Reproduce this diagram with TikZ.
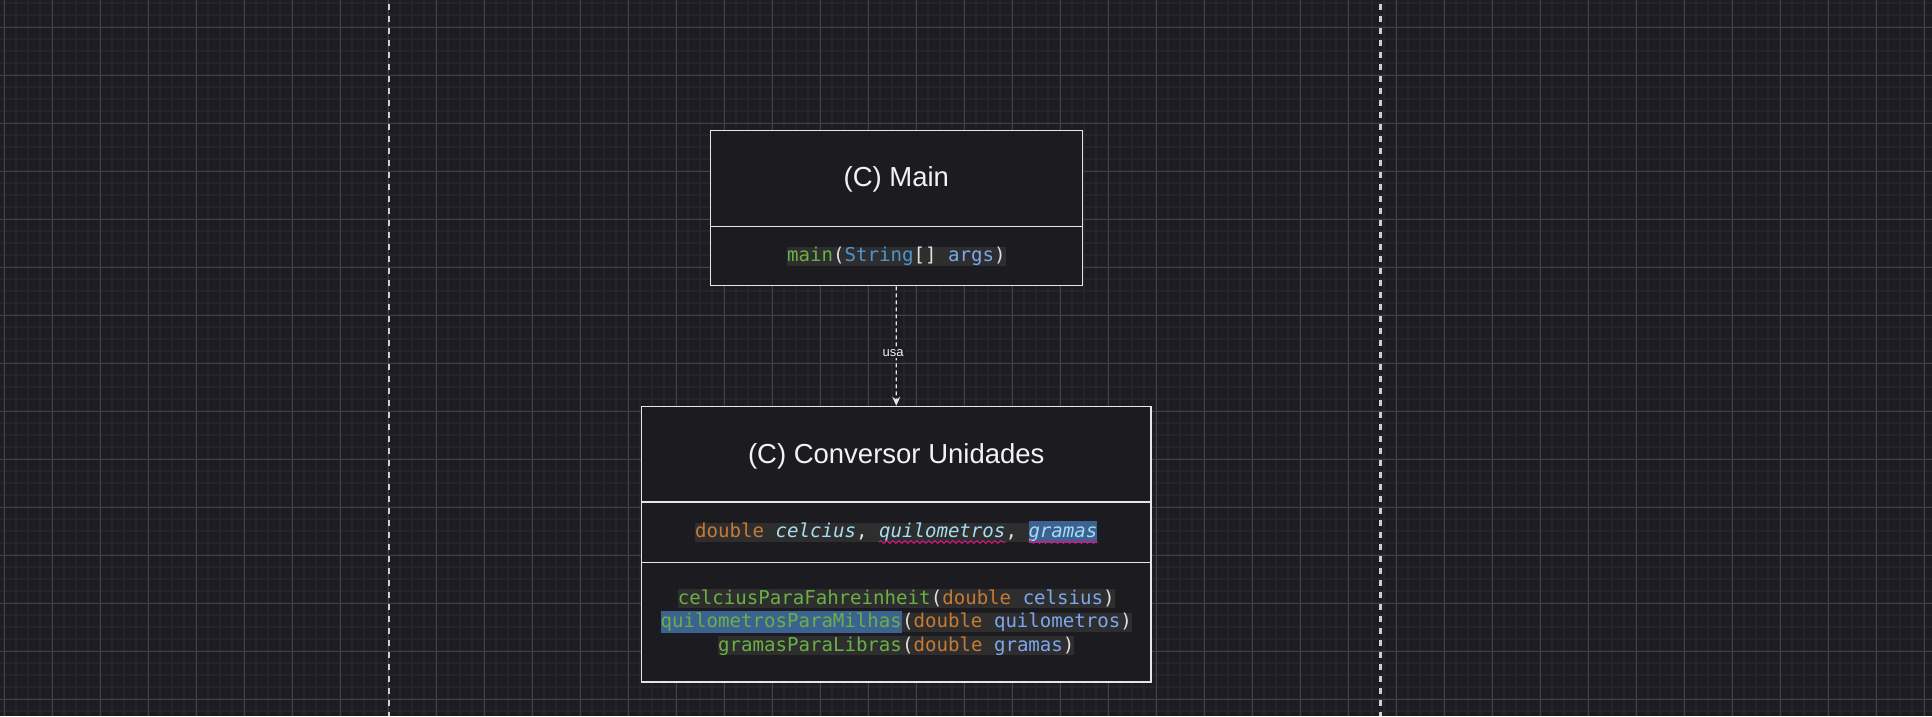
\documentclass[tikz,border=0pt]{standalone}
\usepackage{fontspec}
\setmainfont{Liberation Sans}
\newfontfamily\codefont{DejaVu Sans Mono}
\usetikzlibrary{arrows.meta,decorations.pathmorphing,calc}
\definecolor{bgc}{HTML}{1D1C22}
\definecolor{boxfill}{HTML}{1C1B20}
\definecolor{gridminor}{HTML}{25242A}
\definecolor{gridmajor}{HTML}{424246}
\definecolor{bordercol}{HTML}{E6E6E6}
\definecolor{hlgray}{HTML}{2E2E2F}
\definecolor{selblue}{HTML}{3B6290}
\definecolor{fgreen}{HTML}{6AB046}
\definecolor{ftype}{HTML}{4E94CE}
\definecolor{fparam}{HTML}{7DA6EE}
\definecolor{forange}{HTML}{C77A33}
\definecolor{fvar}{HTML}{A6DCF5}
\definecolor{fpunct}{HTML}{E0E0E0}
\definecolor{titlecol}{HTML}{F2F2F2}
\definecolor{squig}{HTML}{D4177E}
\definecolor{lanecol}{HTML}{D0D0D0}
\newcommand{\gbox}[1]{{\setlength{\fboxsep}{0pt}\colorbox{hlgray}{\rule[-4.2pt]{0pt}{16.4pt}#1}}}
\newcommand{\bbox}[1]{{\setlength{\fboxsep}{0pt}\colorbox{selblue}{\rule[-5.8pt]{0pt}{22.6pt}#1}}}
\newcommand{\cg}[1]{\textcolor{fgreen}{#1}}
\newcommand{\cp}[1]{\textcolor{fpunct}{#1}}
\newcommand{\co}[1]{\textcolor{forange}{#1}}
\newcommand{\cv}[1]{\textcolor{fparam}{#1}}
\newcommand{\ct}[1]{\textcolor{ftype}{#1}}
\newcommand{\ci}[1]{\textcolor{fvar}{\itshape #1}}
\tikzset{
  minorgrid/.style={draw=gridminor, line width=1.8pt},
  majorgrid/.style={draw=gridmajor, line width=1pt},
  lane/.style={draw=lanecol, line width=2.5pt, dash pattern=on 6pt off 6pt, dash phase=8pt},
  umlbox/.style={draw=bordercol, fill=boxfill, line width=1.5pt, rectangle, inner sep=0pt},
  divider/.style={draw=bordercol, line width=1.5pt},
  title/.style={text=titlecol, font=\fontsize{27.5}{32}\selectfont, anchor=base, inner sep=0pt},
  code/.style={font=\codefont\fontsize{19.1}{23}\selectfont, anchor=base, inner sep=0pt},
  uses/.style={draw=bordercol, line width=1.2pt, dash pattern=on 4pt off 3pt, -{Stealth[length=9pt,width=8pt]}},
  edgelabel/.style={text=titlecol, font=\fontsize{13}{15}\selectfont, fill=bgc, inner sep=1.5pt, anchor=base},
  wavy/.style={draw=squig, line width=1.1pt, decorate, decoration={snake, amplitude=1.3pt, segment length=6pt}}
}
\begin{document}
\begin{tikzpicture}[x=1pt, y=-1pt]
\useasboundingbox (0,0) rectangle (1932,716);
\fill[bgc] (0,0) rectangle (1932,716);
% grid
\foreach \i in {0,...,160} \draw[minorgrid] ({4+12*\i},0) -- ({4+12*\i},716);
\foreach \j in {0,...,59} \draw[minorgrid] (0,{3.3+12*\j}) -- (1932,{3.3+12*\j});
\foreach \i in {0,...,40} \draw[majorgrid] ({4.3+48*\i},0) -- ({4.3+48*\i},716);
\foreach \j in {0,...,14} \draw[majorgrid] (0,{27.3+48*\j}) -- (1932,{27.3+48*\j});
% lanes
\coordinate (laneAtop) at (389,0);
\coordinate (laneAbot) at (389,716);
\coordinate (laneBtop) at (1380.5,0);
\coordinate (laneBbot) at (1380.5,716);
\draw[lane] (laneAtop) -- (laneAbot);
\draw[lane] (laneBtop) -- (laneBbot);
% Main box
\node[umlbox, minimum width=372pt, minimum height=155.4pt] (main) at (896.3,208) {};
\coordinate (mdiv) at (0,226.3);
\draw[divider] (main.west |- mdiv) -- (main.east |- mdiv);
\node[title] (maintitle) at (896.3,186.5) {(C) Main};
\node[code] (mainop) at (896.3,261.5) {\gbox{\cg{main}\cp{(}\ct{String}\cp{[] }\cv{args}\cp{)}}};
% Conversor box
\node[umlbox, minimum width=509.5pt, minimum height=275.5pt] (conv) at (896.25,544.25) {};
\coordinate (cdivA) at (0,502);
\coordinate (cdivB) at (0,562.5);
\draw[divider] (conv.west |- cdivA) -- (conv.east |- cdivA);
\draw[divider] (conv.west |- cdivB) -- (conv.east |- cdivB);
\node[title] (convtitle) at (896.25,463) {(C) Conversor Unidades};
\node[code] (attr) at (896.25,537.5) {\gbox{\co{double} \ci{celcius}\cp{,} \ci{quilometros}\cp{,} }\bbox{\ci{gramas}}};
\node[code] (opA) at (896.25,604) {\gbox{\cg{celciusParaFahreinheit}\cp{(}\co{double} \cv{celsius}\cp{)}}};
\node[code] (opB) at (896.25,627.6) {\bbox{\cg{quilometrosParaMilhas}}\gbox{\cp{(}\co{double} \cv{quilometros}\cp{)}}};
\node[code] (opC) at (896.25,651) {\gbox{\cg{gramasParaLibras}\cp{(}\co{double} \cv{gramas}\cp{)}}};
% squiggles
\coordinate (sqA1) at ($(attr.base west)!16/35!(attr.base east)+(0,4.5)$);
\coordinate (sqA2) at ($(attr.base west)!27/35!(attr.base east)+(0,4.5)$);
\coordinate (sqB1) at ($(attr.base west)!29/35!(attr.base east)+(0,4.5)$);
\coordinate (sqB2) at ($(attr.base west)!35/35!(attr.base east)+(0,4.5)$);
\draw[wavy] (sqA1) -- (sqA2);
\draw[wavy] (sqB1) -- (sqB2);
% dependency
\draw[uses] (main.south) -- (conv.north);
\node[edgelabel] (usalabel) at (893,356.7) {usa};
\end{tikzpicture}
\end{document}
